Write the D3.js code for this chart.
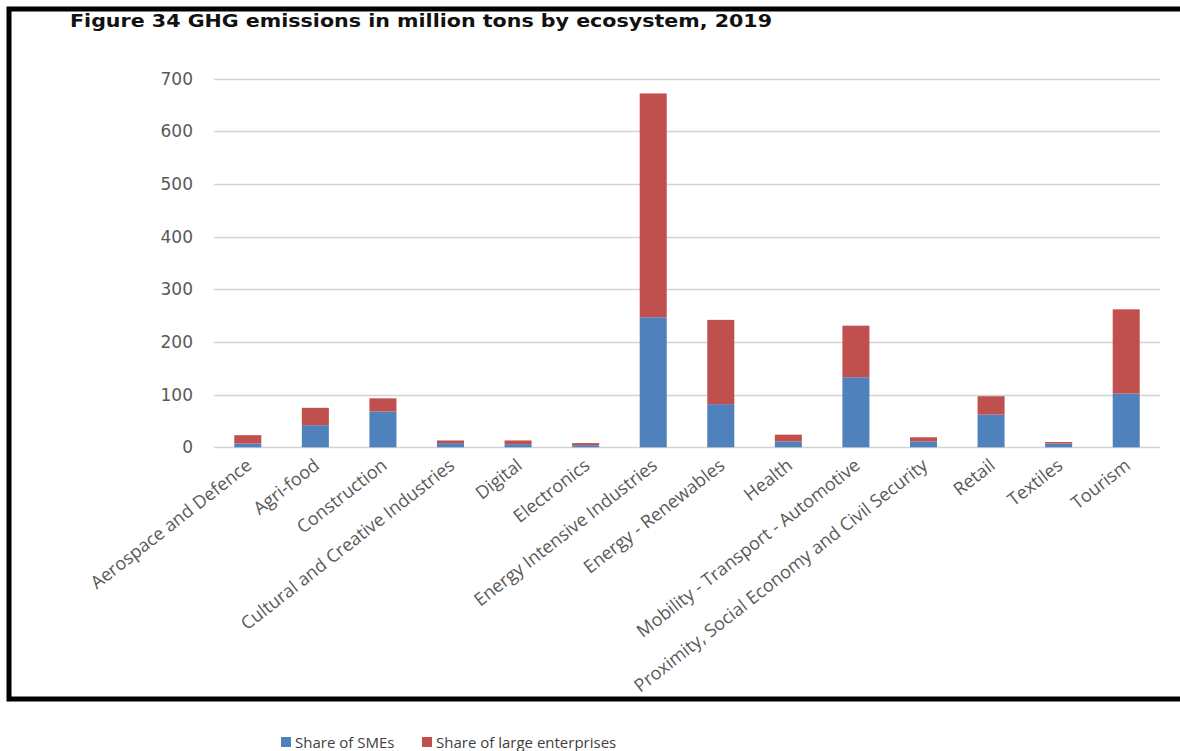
<!DOCTYPE html>
<html>
<head>
<meta charset="utf-8">
<script src="https://cdn.jsdelivr.net/npm/d3@7"></script>
<style>
  body { margin: 0; background: #fff; }
  svg { display: block; }
</style>
</head>
<body>
<div id="chart"></div>
<script>
//data
var categories = [
  'Aerospace and Defence', 'Agri-food', 'Construction', 'Cultural and Creative Industries',
  'Digital', 'Electronics', 'Energy Intensive Industries', 'Energy - Renewables', 'Health',
  'Mobility - Transport - Automotive', 'Proximity, Social Economy and Civil Security',
  'Retail', 'Textiles', 'Tourism'
];
var smeShare   = [7, 42, 68, 8, 6, 4, 247, 82, 11, 133, 11, 62, 7, 102];
var largeShare = [16, 33, 25, 5, 7, 4, 425, 160, 13, 98, 8, 35, 3, 160];
var seriesNames = ['Share of SMEs', 'Share of large enterprises'];
var yTicks = [0, 100, 200, 300, 400, 500, 600, 700];

//dims
var width = 1180;
var height = 751;
var plot = { left: 214, right: 1160, top: 78.7, bottom: 447.3 };

var color = d3.scaleOrdinal().domain(seriesNames).range(['#4F81BD', '#C0504D']);

var svg = d3.select('#chart')
  .append('svg')
  .attr('width', width)
  .attr('height', height);

// frame
svg.append('rect')
  .attr('x', 9).attr('y', 9)
  .attr('width', 1200).attr('height', 690)
  .attr('fill', 'none')
  .attr('stroke', '#000')
  .attr('stroke-width', 5);

// title
svg.append('text')
  .attr('x', 70).attr('y', 27)
  .attr('font-family', 'DejaVu Sans')
  .attr('font-weight', 'bold')
  .attr('font-size', 17.5)
  .attr('textLength', 702)
  .attr('lengthAdjust', 'spacingAndGlyphs')
  .attr('fill', '#111')
  .text('Figure 34 GHG emissions in million tons by ecosystem, 2019');

//scales
var x = d3.scaleBand()
  .domain(categories)
  .range([plot.left, plot.right])
  .paddingInner(0.6)
  .paddingOuter(0.3);

var y = d3.scaleLinear()
  .domain([0, 700])
  .range([plot.bottom, plot.top]);

// gridlines
svg.append('g')
  .selectAll('line')
  .data(yTicks)
  .enter()
  .append('line')
  .attr('x1', plot.left).attr('x2', plot.right)
  .attr('y1', function(d) { return Math.round(y(d)) + 0.5; })
  .attr('y2', function(d) { return Math.round(y(d)) + 0.5; })
  .attr('stroke', '#D4D4D4')
  .attr('stroke-width', 1.3);

// y axis labels
var yAxis = d3.axisLeft(y).tickValues(yTicks).tickSize(0).tickPadding(0);
var yg = svg.append('g')
  .attr('transform', 'translate(193,0)')
  .call(yAxis);
yg.select('.domain').remove();
yg.selectAll('text')
  .attr('font-family', 'DejaVu Sans')
  .attr('font-size', 17)
  .attr('fill', '#595959');

//stack
var rows = categories.map(function(c, i) {
  var r = { label: c };
  r[seriesNames[0]] = smeShare[i];
  r[seriesNames[1]] = largeShare[i];
  return r;
});
var stacked = d3.stack().keys(seriesNames)(rows);

svg.append('g')
  .selectAll('g')
  .data(stacked)
  .enter()
  .append('g')
  .attr('fill', function(d) { return color(d.key); })
  .selectAll('rect')
  .data(function(d) { return d; })
  .enter()
  .append('rect')
  .attr('x', function(d) { return x(d.data.label); })
  .attr('width', x.bandwidth())
  .attr('y', function(d) { return y(d[1]); })
  .attr('height', function(d) { return y(d[0]) - y(d[1]); });

// category labels
svg.append('g')
  .selectAll('text')
  .data(categories)
  .enter()
  .append('text')
  .attr('transform', function(d) {
    return 'translate(' + (x(d) + x.bandwidth() / 2 - 3) + ',457) rotate(-38)';
  })
  .attr('text-anchor', 'end')
  .attr('dy', '0.75em')
  .attr('font-family', 'Open Sans')
  .attr('font-size', 18)
  .attr('fill', '#595959')
  .text(function(d) { return d; });

// legend
var legendX = [281, 422];
var legend = svg.append('g')
  .selectAll('g')
  .data(seriesNames)
  .enter()
  .append('g')
  .attr('transform', function(d, i) { return 'translate(' + legendX[i] + ',737)'; });

legend.append('rect')
  .attr('width', 10).attr('height', 10)
  .attr('fill', function(d) { return color(d); });

legend.append('text')
  .attr('x', 14).attr('y', 10.5)
  .attr('font-family', 'Open Sans')
  .attr('font-size', 15)
  .attr('fill', '#404040')
  .text(function(d) { return d; });
</script>
</body>
</html>
